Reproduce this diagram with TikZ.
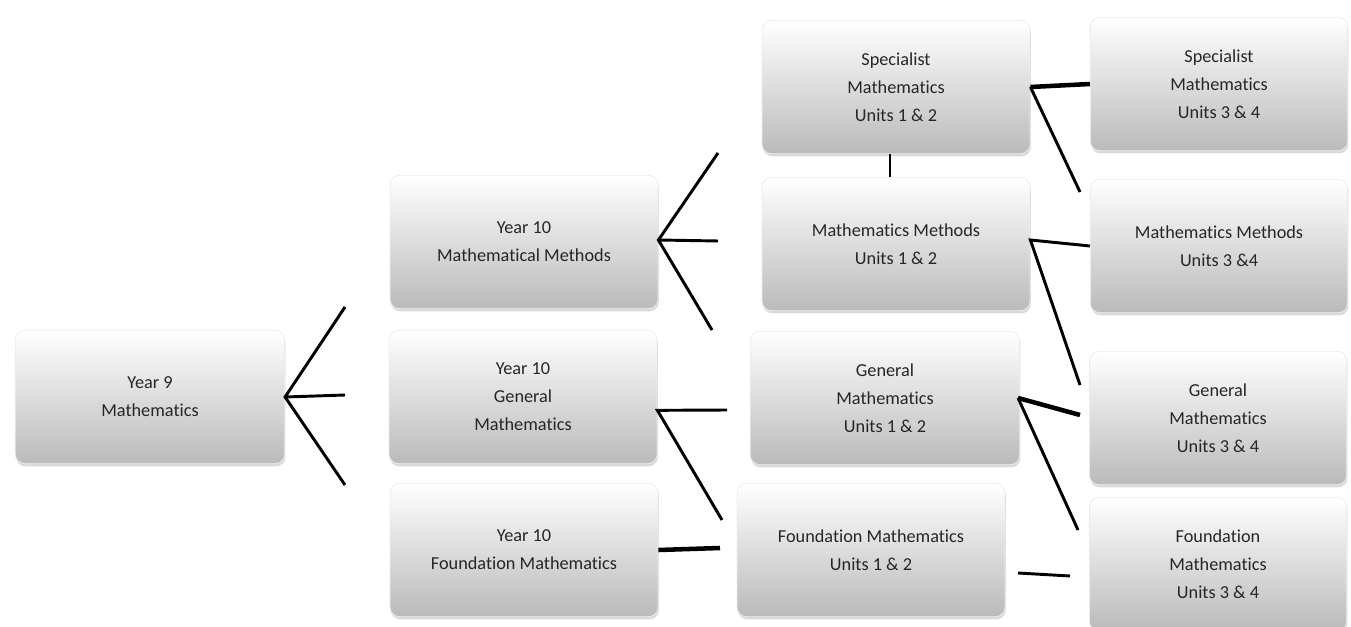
\documentclass[tikz,border=0pt]{standalone}
\usepackage{fontspec}
\setmainfont{Carlito}[Ligatures=NoCommon]
\usetikzlibrary{shadows}
\usetikzlibrary{positioning}

\tikzset{
  box/.style={rounded corners=7pt, draw=black!7, line width=0.6pt,
    top color=white, bottom color=black!27,
    drop shadow={shadow xshift=0.6pt, shadow yshift=-2pt, opacity=0.3},
    minimum width=201pt, minimum height=100pt, align=center,
    text=black!85, font=\fontsize{13.7}{21}\selectfont},
  rbox/.style={box, minimum width=193pt},
  link/.style={line width=2.2pt},
  biglink/.style={line width=3.4pt}
}

\begin{document}
\begin{tikzpicture}[x=0.75pt,y=0.75pt,yscale=-1,xscale=1]
  \useasboundingbox (0,0) rectangle (1351,627);

  % Year 9
  \node [box, minimum width=202pt] (yr9) at (150,397) {Year 9\\Mathematics};

  % Year 10
  \node [box] (ymm) at (524,242) {Year 10\\Mathematical Methods};
  \node [box] (ygen) at (523,397) {Year 10\\General\\Mathematics};
  \node [box] (yfou) at (524,550) {Year 10\\Foundation Mathematics};

  % Units 1 & 2
  \node [box] (spa) at (896,87) {Specialist\\Mathematics\\Units 1 \& 2};
  \node [box] (mma) at (896,244) {Mathematics Methods\\Units 1 \& 2};
  \node [box, minimum width=202pt] (gena) at (885,398) {General\\Mathematics\\Units 1 \& 2};
  \node [box] (foua) at (871,550) {Foundation Mathematics\\Units 1 \& 2};

  % Units 3 & 4
  \node [rbox] (spb) at (1219,84) {Specialist\\Mathematics\\Units 3 \& 4};
  \node [rbox] (mmb) at (1219,246) {Mathematics Methods\\Units 3 \&4};
  \node [rbox] (genb) at (1218,418) {General\\Mathematics\\Units 3 \& 4};
  \node [rbox] (foub) at (1218,564) {Foundation\\Mathematics\\Units 3 \& 4};

  % free ends
  \coordinate (yr9up) at (345,307);
  \coordinate (yr9mid) at (345,395);
  \coordinate (yr9dn) at (345,485);
  \coordinate (ymmup) at (718,153);
  \coordinate (ymmmid) at (718,241);
  \coordinate (ymmdn) at (712,330);
  \coordinate (ygenr) at (727,410);
  \coordinate (ygendn) at (722,520);
  \coordinate (yfour) at (720,548);
  \coordinate (spadn) at (1080,192);
  \coordinate (mmadn) at (1080,385);
  \coordinate (genar) at (1080,415);
  \coordinate (genadn) at (1078,530);
  \coordinate (fouar) at (1018,573);
  \coordinate (foubl) at (1070,576);

  % Year 9 fan
  \draw [link] (yr9up) -- (yr9.east) -- (yr9dn);
  \draw [link] (yr9.east) -- (yr9mid);
  % Year 10 fan
  \draw [link] (ymmup) -- ([yshift=-1.5pt]ymm.east) -- (ymmdn);
  \draw [link] ([yshift=-1.5pt]ymm.east) -- (ymmmid);
  \draw [link] (ygenr) -- ([yshift=10pt]ygen.east) -- (ygendn);
  \draw [biglink] (yfou.east) -- (yfour);
  % Units 1 & 2
  \draw [link] ([xshift=-4.5pt]spa.south) -- ([xshift=-4.5pt]mma.north);
  \draw [biglink] (spa.east) -- (spb.west);
  \draw [link] (spa.east) -- (spadn);
  \draw [link] (mmb.west) -- ([yshift=-3pt]mma.east) -- (mmadn);
  \draw [biglink] (genar) -- ([xshift=-1.5pt]gena.east);
  \draw [link] ([xshift=-1.5pt]gena.east) -- (genadn);
  \draw [link] (fouar) -- (foubl);
\end{tikzpicture}
\end{document}
